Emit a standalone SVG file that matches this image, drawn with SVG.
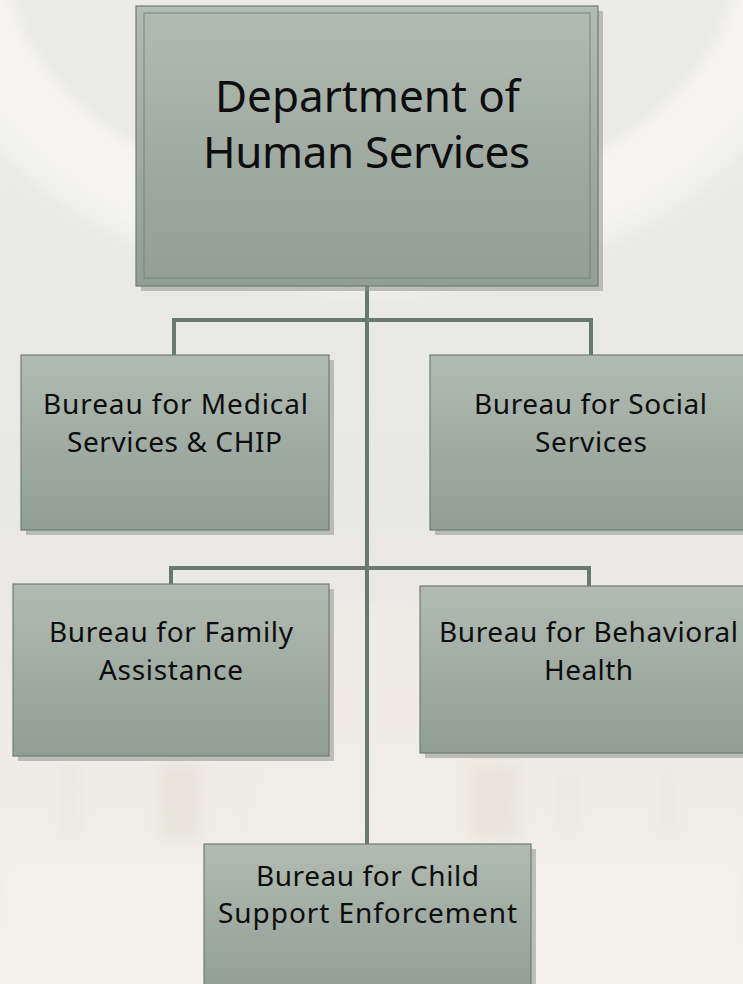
<svg xmlns="http://www.w3.org/2000/svg" width="743" height="984" viewBox="0 0 743 984">
  <defs>
    <linearGradient id="bg" x1="0" y1="0" x2="0" y2="1">
      <stop offset="0" stop-color="#ebebea"/>
      <stop offset="0.5" stop-color="#e8e8e6"/>
      <stop offset="0.72" stop-color="#eeeae5"/>
      <stop offset="1" stop-color="#f3f0ec"/>
    </linearGradient>
    <linearGradient id="boxfill" x1="0" y1="0" x2="0" y2="1">
      <stop offset="0" stop-color="#b1bbb2"/>
      <stop offset="1" stop-color="#909e94"/>
    </linearGradient>
    <filter id="soft" x="-20%" y="-20%" width="140%" height="140%">
      <feGaussianBlur stdDeviation="7"/>
    </filter>
    <style>
      .box { fill: url(#boxfill); stroke: #6f7e73; stroke-width: 1.2; }
      .shadow { fill: #8f9690; opacity: 0.55; }
      .inner { fill: none; stroke: #75857a; stroke-width: 1; }
      .lbl { font-family: "Noto Sans", "Open Sans", "Liberation Sans", sans-serif; font-size: 28px; fill: #0d0d0d; text-anchor: middle; }
      .title { font-size: 44px; }
      .conn { fill: none; stroke: #687a6e; stroke-width: 4; stroke-linecap: butt; stroke-linejoin: miter; }
      .col { fill: #d6cfc3; opacity: 0.3; }
    </style>
  </defs>

  <g id="background">
    <rect x="0" y="0" width="743" height="984" fill="url(#bg)"/>
    <g filter="url(#soft)">
      <ellipse cx="372" cy="-40" rx="400" ry="280" fill="none" stroke="#f8f7f4" stroke-width="70" opacity="0.85"/>
      <ellipse cx="372" cy="-40" rx="440" ry="320" fill="none" stroke="#f4f3f0" stroke-width="30" opacity="0.6"/>
      <path d="M250 984 L250 640 Q372 560 494 640 L494 984 Z" fill="#f2ede6" opacity="0.5"/>
      <rect class="col" x="68" y="765" width="6" height="70"/>
      <rect class="col" x="160" y="765" width="40" height="75"/>
      <rect class="col" x="470" y="765" width="48" height="75"/>
      <rect class="col" x="565" y="770" width="6" height="60"/>
      <rect class="col" x="665" y="770" width="7" height="65"/>
      <rect x="0" y="850" width="743" height="134" fill="#f5f1ec" opacity="0.5"/>
    </g>
  </g>

  <g id="connectors">
    <path class="conn" d="M367 286 L367 844"/>
    <path class="conn" d="M174 355 L174 320 L591 320 L591 355"/>
    <path class="conn" d="M171 584 L171 568 L589 568 L589 586"/>
  </g>

  <g id="node-dhs">
    <rect class="shadow" x="141" y="11" width="462" height="280"/>
    <rect class="box" x="136" y="6" width="462" height="280"/>
    <rect class="inner" x="144" y="13" width="446" height="265"/>
    <text class="lbl title" x="367.5" y="112" textLength="305" lengthAdjust="spacing">Department of</text>
    <text class="lbl title" x="366.5" y="168" textLength="327" lengthAdjust="spacing">Human Services</text>
  </g>

  <g id="node-medical">
    <rect class="shadow" x="26" y="360" width="308" height="175"/>
    <rect class="box" x="21" y="355" width="308" height="175"/>
    <text class="lbl" x="175.5" y="414" textLength="265" lengthAdjust="spacing">Bureau for Medical</text>
    <text class="lbl" x="174.5" y="452" textLength="215" lengthAdjust="spacing">Services &amp; CHIP</text>
  </g>

  <g id="node-social">
    <rect class="shadow" x="435" y="360" width="320" height="175"/>
    <rect class="box" x="430" y="355" width="320" height="175"/>
    <text class="lbl" x="590.5" y="414" textLength="233" lengthAdjust="spacing">Bureau for Social</text>
    <text class="lbl" x="591" y="452" textLength="112" lengthAdjust="spacing">Services</text>
  </g>

  <g id="node-family">
    <rect class="shadow" x="18" y="589" width="316" height="172"/>
    <rect class="box" x="13" y="584" width="316" height="172"/>
    <text class="lbl" x="171" y="642" textLength="244" lengthAdjust="spacing">Bureau for Family</text>
    <text class="lbl" x="171" y="680" textLength="144" lengthAdjust="spacing">Assistance</text>
  </g>

  <g id="node-behavioral">
    <rect class="shadow" x="425" y="591" width="330" height="167"/>
    <rect class="box" x="420" y="586" width="330" height="167"/>
    <text class="lbl" x="588.5" y="642" textLength="299" lengthAdjust="spacing">Bureau for Behavioral</text>
    <text class="lbl" x="588.5" y="680" textLength="89" lengthAdjust="spacing">Health</text>
  </g>

  <g id="node-child">
    <rect class="shadow" x="209" y="849" width="327" height="150"/>
    <rect class="box" x="204" y="844" width="327" height="150"/>
    <text class="lbl" x="367.5" y="886" textLength="223" lengthAdjust="spacing">Bureau for Child</text>
    <text class="lbl" x="367.5" y="923" textLength="299" lengthAdjust="spacing">Support Enforcement</text>
  </g>
</svg>
